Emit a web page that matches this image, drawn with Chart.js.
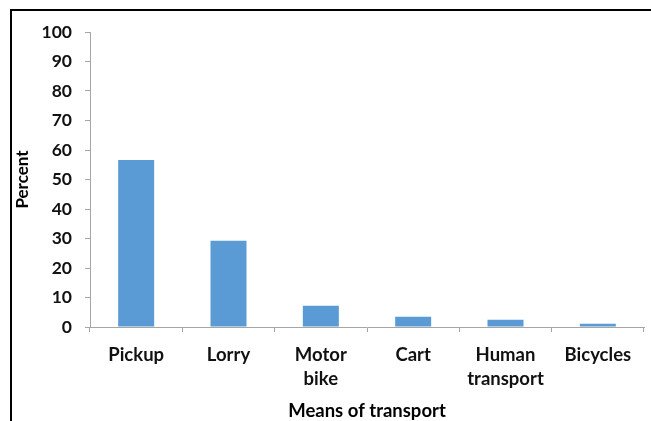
<!DOCTYPE html>
<html>
<head>
<meta charset="utf-8">
<script src="https://cdn.jsdelivr.net/npm/chart.js@4"></script>
<style>
  html, body { margin: 0; padding: 0; background: #fff; }
  #wrap { width: 651px; height: 421px; position: relative; }
</style>
</head>
<body>
<div id="wrap"><canvas id="c" width="651" height="421"></canvas></div>
<script>
const categories = [['Pickup'], ['Lorry'], ['Motor', 'bike'], ['Cart'], ['Human', 'transport'], ['Bicycles']];
const percentValues = [56.6, 29.2, 7.2, 3.5, 2.5, 1.1];
const yTicks = [0, 10, 20, 30, 40, 50, 60, 70, 80, 90, 100];
const xTitle = 'Means of transport';
const yTitle = 'Percent';

const framePlugin = {
  id: 'frame',
  beforeDraw(chart) {
    const ctx = chart.ctx;
    ctx.save();
    ctx.fillStyle = '#fff';
    ctx.fillRect(0, 0, chart.width, chart.height);
    ctx.strokeStyle = '#000';
    ctx.lineWidth = 2;
    ctx.beginPath();
    ctx.moveTo(11, chart.height);
    ctx.lineTo(11, 10);
    ctx.lineTo(chart.width, 10);
    ctx.stroke();
    ctx.restore();
  }
};

Chart.defaults.font.family = 'Lato, "Open Sans", sans-serif';
Chart.defaults.font.weight = 'bold';
Chart.defaults.color = '#111';

new Chart(document.getElementById('c'), {
  type: 'bar',
  data: {
    labels: categories,
    datasets: [{
      data: percentValues,
      backgroundColor: '#5B9BD5',
      borderWidth: 0,
      categoryPercentage: 1,
      barPercentage: 0.39
    }]
  },
  options: {
    responsive: false,
    animation: false,
    devicePixelRatio: 1,
    layout: { padding: { left: 12, top: 32, right: 7, bottom: 0 } },
    plugins: { legend: { display: false }, tooltip: { enabled: false } },
    scales: {
      x: {
        offset: true,
        grid: { offset: true, drawOnChartArea: false, tickLength: 5, color: '#a6a6a6' },
        border: { color: '#a6a6a6', width: 1 },
        ticks: { font: { size: 18.5, weight: 'bold', lineHeight: 1.3 }, padding: 11, maxRotation: 0, autoSkip: false, color: '#111' },
        title: { display: true, text: xTitle, font: { size: 18.5, weight: 'bold' }, padding: { top: 0, bottom: -1 }, color: '#000' },
        afterFit(scale) { scale.height = 94; }
      },
      y: {
        min: 0, max: 100,
        afterBuildTicks(scale) { scale.ticks = yTicks.map(v => ({ value: v })); },
        grid: { drawOnChartArea: false, tickLength: 5, color: '#a6a6a6' },
        border: { color: '#a6a6a6', width: 1 },
        ticks: { font: { size: 17.5, weight: 'bold' }, padding: 13, color: '#111' },
        title: { display: true, text: yTitle, font: { size: 17, weight: 'bold' }, padding: 0, color: '#000' },
        afterFit(scale) { scale.width = 78; }
      }
    }
  },
  plugins: [framePlugin]
});
</script>
</body>
</html>
